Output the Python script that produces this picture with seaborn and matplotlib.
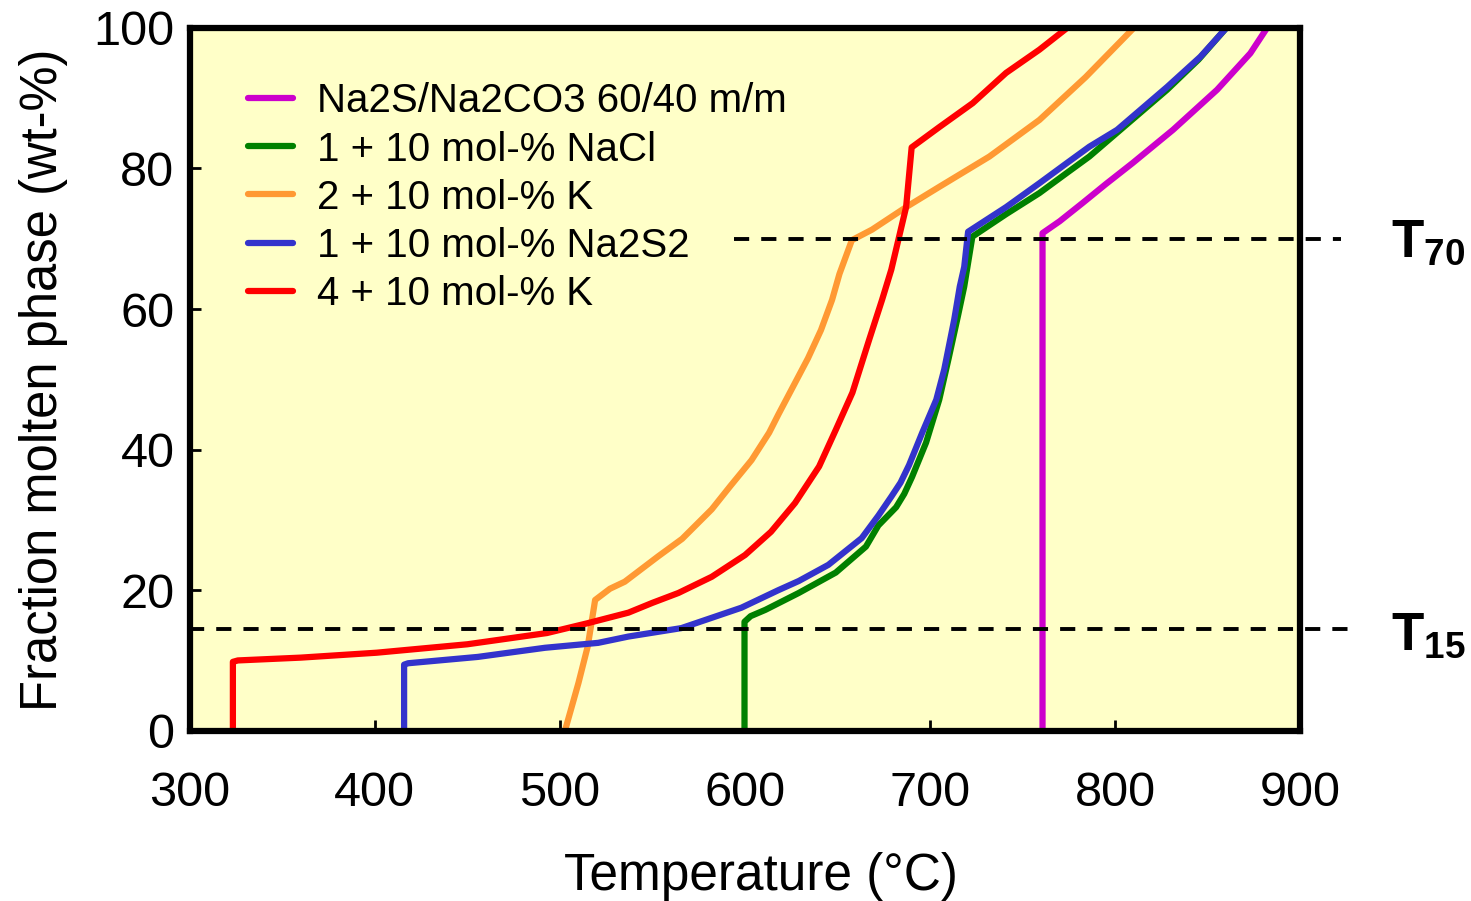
import numpy as np
import pandas as pd
import seaborn as sns
import matplotlib.pyplot as plt

# curves: temperature (degC) vs fraction molten phase (wt-%)
labels = ["Na2S/Na2CO3 60/40 m/m", "1 + 10 mol-% NaCl", "2 + 10 mol-% K",
          "1 + 10 mol-% Na2S2", "4 + 10 mol-% K"]
colors = ["#CC00CC", "#008000", "#FF9933", "#3333CC", "#FF0000"]

mag_t = [760.7, 760.7, 770, 782.4, 795, 809.5, 831.2, 855, 873, 882]
mag_y = [0, 70.8, 72.5, 75.1, 77.8, 80.8, 85.5, 91.2, 96.4, 100]

grn_t = [599.7, 599.7, 603, 611, 629, 649, 665.3, 672, 681.6, 686, 690.2, 697.8,
         704.9, 710, 715, 718.4, 722.8, 741, 759, 774, 786, 805, 828, 845, 860]
grn_y = [0, 15.5, 16.3, 17.2, 19.6, 22.5, 26.2, 29.2, 31.8, 33.7, 36.1, 41,
         47.1, 53, 59, 63.2, 70.3, 73.5, 76.5, 79.4, 81.7, 86.0, 91.2, 95.5, 100]

org_t = [502.7, 510, 515, 519, 527, 535, 553, 566, 582, 592, 603.5, 613, 618,
         627, 634, 641, 647, 651, 657.7, 668.6, 687, 705, 732, 759, 784, 810]
org_y = [0, 6.8, 12, 18.6, 20.2, 21.2, 24.8, 27.3, 31.5, 34.8, 38.5, 42.4, 45.0,
         49.5, 53.0, 57, 61.3, 65, 69.8, 71.3, 74.5, 77.4, 81.7, 86.9, 93, 100]

blu_t = [415.8, 415.8, 418, 455.6, 491.9, 520.6, 537, 565.6, 598, 618, 629, 645,
         663, 672, 679, 684, 688.6, 695.7, 703.3, 707.6, 713, 716, 718.4, 720.5,
         741, 759, 774, 786, 801, 828, 846, 860]
blu_y = [0, 9.4, 9.6, 10.5, 11.8, 12.5, 13.4, 14.6, 17.5, 20, 21.3, 23.6,
         27.4, 30.6, 33.3, 35.3, 37.8, 42.4, 47.1, 51.4, 58.5, 63.2, 66, 71,
         74.5, 77.9, 80.8, 83.1, 85.5, 91.6, 95.9, 100]

red_t = [323.3, 323.3, 326, 360, 401, 450, 493, 515, 537, 550, 564, 582, 600,
         614, 627, 640, 649, 658, 667, 674, 679, 687, 690, 705, 723, 741, 759, 774]
red_y = [0, 9.8, 10.0, 10.4, 11.1, 12.3, 13.9, 15.3, 16.8, 18.2, 19.6, 21.9, 25.0,
         28.3, 32.4, 37.6, 42.8, 48.1, 55.6, 61.3, 65.6, 74.5, 83.0, 85.9, 89.3,
         93.6, 96.9, 100]

temps = [mag_t, grn_t, org_t, blu_t, red_t]
fracs = [mag_y, grn_y, org_y, blu_y, red_y]

# threshold lines T15 / T70
t15_level = 14.5
t15_span = [299.5, 929]
t70_level = 70
t70_span = [593.8, 921.7]

frames = []
for lab, t, y in zip(labels, temps, fracs):
    frames.append(pd.DataFrame({"T": t, "frac": y, "mix": lab}))
df = pd.concat(frames, ignore_index=True)

sns.set_style("ticks")
plt.rcParams["font.family"] = ["Liberation Sans", "DejaVu Sans"]
plt.rcParams["mathtext.fontset"] = "custom"
plt.rcParams["mathtext.bf"] = "Liberation Sans:bold"
plt.rcParams["mathtext.rm"] = "Liberation Sans"
for key in ["text.color", "axes.labelcolor", "xtick.color", "ytick.color"]:
    plt.rcParams[key] = "black"

fig, ax = plt.subplots(figsize=(14.71, 9.01), dpi=100)
fig.subplots_adjust(left=0.129, right=0.884, bottom=0.189, top=0.969)
ax.set_facecolor("#FFFFC8")

sns.lineplot(data=df, x="T", y="frac", hue="mix", hue_order=labels,
             palette=colors, sort=False, estimator=None, lw=4.5, ax=ax)

dash = (0, (3.9, 3.1))
ax.plot(t15_span, [t15_level, t15_level], color="k", lw=2.8, ls=dash, clip_on=False)
ax.plot(t70_span, [t70_level, t70_level], color="k", lw=2.8, ls=dash, clip_on=False)

ax.text(949, 11.5, r"$\mathbf{T}_{\mathbf{15}}$", fontsize=38, va="baseline",
        ha="left", clip_on=False)
ax.text(949, 67.3, r"$\mathbf{T}_{\mathbf{70}}$", fontsize=38, va="baseline",
        ha="left", clip_on=False)

ax.set_xlim(300, 900)
ax.set_ylim(0, 100)
ax.set_xticks(np.arange(300, 901, 100))
ax.set_yticks(np.arange(0, 101, 20))
ax.tick_params(direction="in", length=8, width=2, labelsize=35)
ax.tick_params(axis="x", pad=29)
ax.tick_params(axis="y", pad=11)
for sp in ax.spines.values():
    sp.set_linewidth(4.5)
    sp.set_color("black")

ax.set_xlabel("Temperature (°C)", fontsize=37)
ax.xaxis.set_label_coords(0.514, -0.173)
ax.set_ylabel("Fraction molten phase (wt-%)", fontsize=36.5, labelpad=18)

handles, labs = ax.get_legend_handles_labels()
ax.legend(handles[:5], labs[:5], loc="upper left", bbox_to_anchor=(0.02, 0.974),
          frameon=False, fontsize=29, handlelength=1.1, handletextpad=0.6,
          labelspacing=0.25)

fig.savefig("out.png", dpi=100)
